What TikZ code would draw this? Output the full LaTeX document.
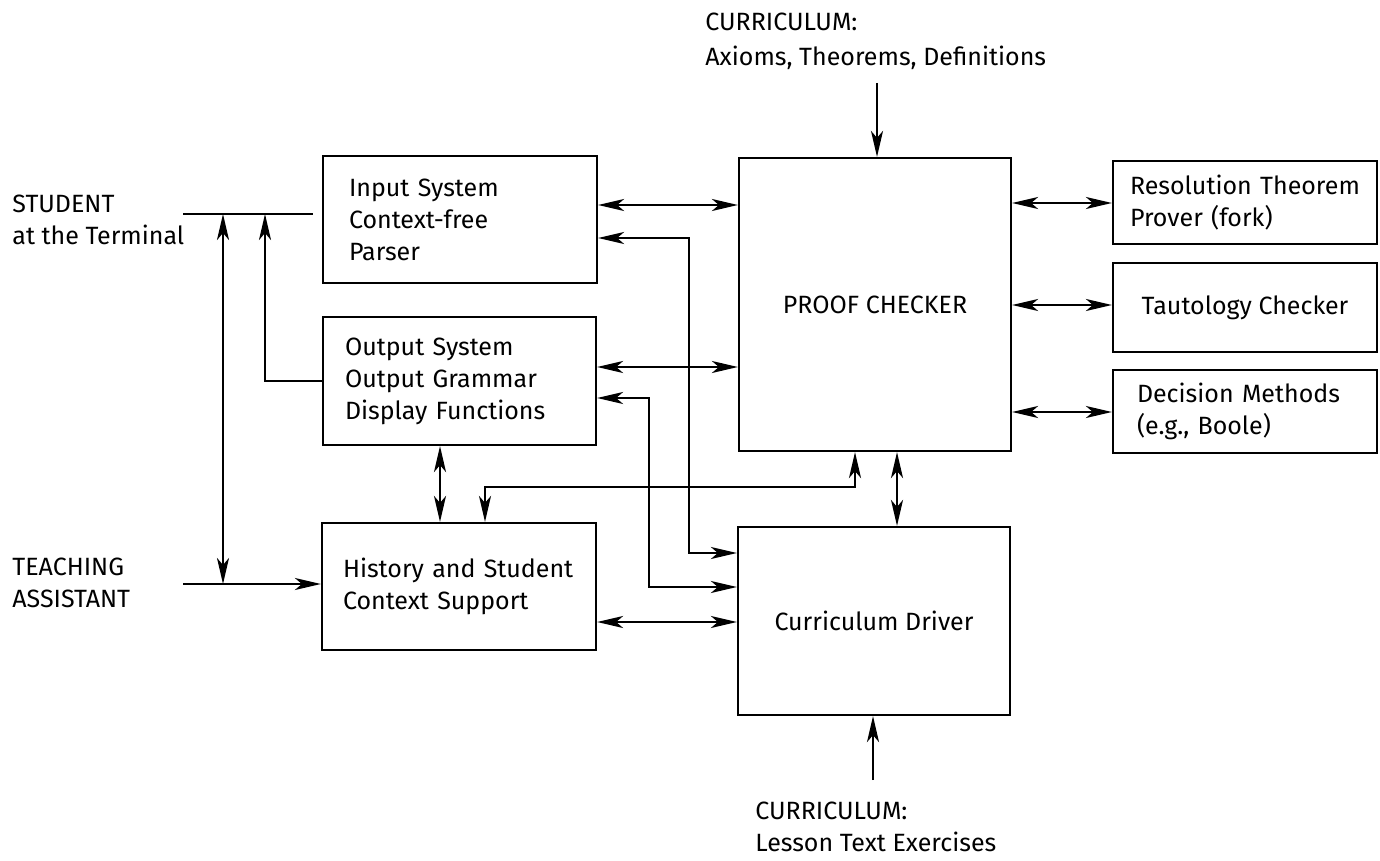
\documentclass[tikz,border=0pt]{standalone}
\usepackage{fontspec}
\setmainfont{Fira Sans}
\usetikzlibrary{arrows.meta}
\begin{document}
\begin{tikzpicture}[x=0.5pt,y=-0.5pt,
  font=\fontsize{12.5}{16}\selectfont,
  box/.style={draw, line width=1.1pt, inner xsep=0pt, inner ysep=0pt},
  lbox/.style={box, align=left},
  cbox/.style={box, align=center},
  txt/.style={align=left, inner sep=0pt, anchor=west},
  conn/.style={line width=1.2pt},
  arr/.style={conn, -{Stealth[length=13pt,width=6pt,inset=3.5pt]}},
  dbl/.style={conn, {Stealth[length=13pt,width=6pt,inset=3.5pt]}-{Stealth[length=13pt,width=6pt,inset=3.5pt]}}]
\useasboundingbox (0,0) rectangle (1380,861);

% boxes
\node[lbox, minimum width=137pt, minimum height=63.5pt, text width=111pt] (inp) at (460,219.5)
  {\mbox{Input System}\\\mbox{Context-free}\\\mbox{Parser}};
\node[lbox, minimum width=136.5pt, minimum height=64pt, text width=114.5pt] (out) at (459.5,381)
  {\mbox{Output System}\\\mbox{Output Grammar}\\\mbox{Display Functions}};
\node[lbox, minimum width=137pt, minimum height=63.5pt, text width=116pt] (hist) at (459,586.5)
  {\mbox{History and Student}\\\mbox{Context Support}};
\node[cbox, minimum width=136pt, minimum height=146.5pt] (pc) at (875,304.5) {PROOF CHECKER};
\node[cbox, minimum width=136pt, minimum height=94pt] (cd) at (874,621) {Curriculum Driver};
\node[lbox, minimum width=132pt, minimum height=41.5pt, text width=115pt] (res) at (1245,202.5)
  {\mbox{Resolution Theorem}\\\mbox{Prover (fork)}};
\node[cbox, minimum width=132pt, minimum height=44.5pt] (taut) at (1245,307.5) {Tautology Checker};
\node[lbox, minimum width=132pt, minimum height=41.5pt, text width=108pt] (dec) at (1245,411.5)
  {\mbox{Decision Methods}\\\mbox{(e.g., Boole)}};

% outside labels
\node[txt] (stu) at (12,219.5) {STUDENT\\at the Terminal};
\node[txt] (ta) at (12,582.5) {TEACHING\\ASSISTANT};
\node[txt, font=\fontsize{12.5}{17.5}\selectfont] (ctop) at (705,41.5) {CURRICULUM:\\Axioms, Theorems, Definitions};
\node[txt] (cbot) at (755,827) {CURRICULUM:\\Lesson Text Exercises};

% free ends and junctions
\coordinate (s1) at (183,214);
\coordinate (s2) at (313,214);
\coordinate (j1) at (223,214);
\coordinate (j2) at (223,584);
\coordinate (j3) at (265,214);
\coordinate (t1) at (183,584);
\coordinate (ct) at (877,83);
\coordinate (cb) at (873,780);

% student / TA side
\draw[conn] (s1) -- (s2);
\draw[dbl] (j1) -- (j2);
\draw[arr] (out.west) -| (j3);
\draw[arr] (t1) -- (t1 -| hist.west);

% left column to PC / CD
\draw[dbl] (inp.east |- 0,205) -- (pc.west |- 0,205);
\draw[dbl] (inp.east |- 0,238) -- (689,238) |- (cd.west |- 0,553);
\draw[dbl] (out.east |- 0,367) -- (pc.west |- 0,367);
\draw[dbl] (out.east |- 0,398) -- (649,398) |- (cd.west |- 0,587);
\draw[dbl] (hist.east |- 0,622) -- (cd.west |- 0,622);
\draw[dbl] (out.south -| 440,0) -- (hist.north -| 440,0);
\draw[dbl] (pc.south -| 855,0) -- (855,487) -| (hist.north -| 485,0);
\draw[dbl] (pc.south -| 897,0) -- (cd.north -| 897,0);

% curriculum inputs
\draw[arr] (ct) -- (pc.north -| ct);
\draw[arr] (cb) -- (cd.south -| cb);

% right side
\draw[dbl] (pc.east |- 0,203) -- (res.west |- 0,203);
\draw[dbl] (pc.east |- 0,305) -- (taut.west |- 0,305);
\draw[dbl] (pc.east |- 0,412) -- (dec.west |- 0,412);
\end{tikzpicture}
\end{document}
